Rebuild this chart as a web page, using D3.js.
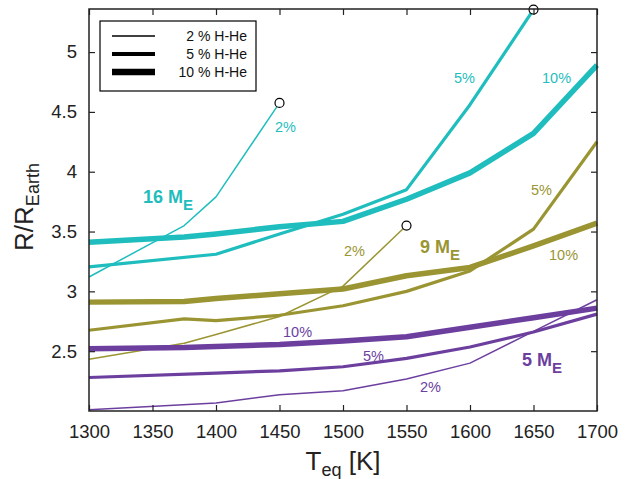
<!DOCTYPE html>
<html><head><meta charset="utf-8">
<script src="https://cdn.jsdelivr.net/npm/d3@7"></script>
<style>body{margin:0;background:#fff}svg{display:block;font-family:"Liberation Sans",Arial,Helvetica,sans-serif}</style>
</head><body><svg id="c" width="631" height="479"></svg>
<script>
// ---- data ----
const xTicks = [1300,1350,1400,1450,1500,1550,1600,1650,1700];
const yTicks = [2.5,3,3.5,4,4.5,5];

const t16_2 = [1300,1375,1400,1450];
const r16_2 = [3.12,3.55,3.79,4.575];
const t16_5 = [1300,1400,1450,1500,1550,1600,1650];
const r16_5 = [3.205,3.31,3.48,3.645,3.85,4.56,5.355];
const t16_10 = [1300,1375,1400,1450,1500,1550,1600,1650,1700];
const r16_10 = [3.41,3.455,3.48,3.54,3.585,3.77,3.99,4.32,4.89];

const t9_2 = [1300,1375,1400,1450,1500,1550];
const r9_2 = [2.433,2.567,2.64,2.79,3.044,3.55];
const t9_5 = [1300,1375,1400,1450,1500,1550,1600,1650,1700];
const r9_5 = [2.675,2.77,2.755,2.80,2.88,3.0,3.17,3.52,4.25];
const t9_10 = [1300,1375,1400,1450,1500,1550,1600,1650,1700];
const r9_10 = [2.91,2.915,2.94,2.98,3.02,3.13,3.20,3.38,3.57];

const t5_2 = [1300,1400,1450,1500,1550,1600,1650,1700];
const r5_2 = [2.01,2.067,2.136,2.17,2.267,2.40,2.665,2.93];
const t5_5 = [1300,1400,1450,1500,1550,1600,1650,1700];
const r5_5 = [2.28,2.317,2.336,2.37,2.44,2.535,2.66,2.81];
const t5_10 = [1300,1375,1400,1450,1500,1550,1600,1650,1700];
const r5_10 = [2.52,2.53,2.54,2.555,2.586,2.62,2.70,2.78,2.86];

const legendLabels = ["2 % H-He","5 % H-He","10 % H-He"];
const widths = {2:1.5, 5:3.2, 10:5.5};
const colors = {16:"#1fbdbd", 9:"#9a9532", 5:"#6c3f9f"};

const series = [
  {m:16,p:2,t:t16_2,r:r16_2,end:true},
  {m:16,p:5,t:t16_5,r:r16_5,end:true},
  {m:16,p:10,t:t16_10,r:r16_10},
  {m:9,p:2,t:t9_2,r:r9_2,end:true},
  {m:9,p:5,t:t9_5,r:r9_5},
  {m:9,p:10,t:t9_10,r:r9_10},
  {m:5,p:2,t:t5_2,r:r5_2},
  {m:5,p:5,t:t5_5,r:r5_5},
  {m:5,p:10,t:t5_10,r:r5_10}
];

// ---- layout ----
const svg = d3.select("#c");
const L=89, R=597, T=9, B=411;
const x = d3.scaleLinear().domain([1300,1700]).range([L,R]);
const y = d3.scaleLinear().domain([2,5.36]).range([B,T]);

const line = d3.line().x(d=>x(d[0])).y(d=>y(d[1]));
series.forEach(s=>{
  const pts = s.t.map((t,i)=>[t,s.r[i]]);
  svg.append("path").attr("d",line(pts)).attr("fill","none")
    .attr("stroke",colors[s.m]).attr("stroke-width",widths[s.p])
    .attr("stroke-linejoin","round");
});
series.filter(s=>s.end).forEach(s=>{
  const n=s.t.length-1;
  svg.append("circle").attr("cx",x(s.t[n])).attr("cy",y(s.r[n])).attr("r",4.5)
    .attr("fill","#fff").attr("stroke","#000").attr("stroke-width",1.2);
});

// axes with inward ticks
const fs = 18.5;
const gB = svg.append("g").attr("transform",`translate(0,${B})`)
  .call(d3.axisBottom(x).tickValues(xTicks).tickSizeInner(-6).tickSizeOuter(0).tickPadding(14).tickFormat(d3.format("d")));
const gT = svg.append("g").attr("transform",`translate(0,${T})`)
  .call(d3.axisTop(x).tickValues(xTicks).tickSizeInner(-6).tickSizeOuter(0).tickFormat(""));
const gL = svg.append("g").attr("transform",`translate(${L},0)`)
  .call(d3.axisLeft(y).tickValues(yTicks).tickSizeInner(-6).tickSizeOuter(0).tickPadding(12).tickFormat(d3.format("")));
const gR = svg.append("g").attr("transform",`translate(${R},0)`)
  .call(d3.axisRight(y).tickValues(yTicks).tickSizeInner(-6).tickSizeOuter(0).tickFormat(""));
[gB,gT,gL,gR].forEach(g=>{
  g.select(".domain").remove();
  g.selectAll("line").attr("stroke","#222").attr("stroke-width",1.2);
  g.selectAll("text").attr("font-size",fs).attr("fill","#222")
   .attr("font-family","Liberation Sans, Arial, sans-serif");
});
svg.append("rect").attr("x",L).attr("y",T).attr("width",R-L).attr("height",B-T)
  .attr("fill","none").attr("stroke","#222").attr("stroke-width",1.5);

// axis titles
const xt = svg.append("text").attr("x",343).attr("y",470).attr("text-anchor","middle")
  .attr("font-size",26).attr("fill","#222");
xt.append("tspan").text("T");
xt.append("tspan").attr("font-size",18).attr("dy",6).text("eq");
xt.append("tspan").attr("dy",-6).text(" [K]");

const yt = svg.append("text").attr("transform","translate(33,207) rotate(-90)")
  .attr("text-anchor","middle").attr("font-size",26).attr("fill","#222");
yt.append("tspan").text("R/R");
yt.append("tspan").attr("font-size",18).attr("dy",6).text("Earth");

// legend
const lg = svg.append("g");
lg.append("rect").attr("x",100).attr("y",21).attr("width",156).attr("height",70)
  .attr("fill","#fff").attr("stroke","#000").attr("stroke-width",1.2);
const lw=[1.5,4,6.5], ly=[36,54,72];
legendLabels.forEach((lab,i)=>{
  lg.append("line").attr("x1",112).attr("x2",155).attr("y1",ly[i]).attr("y2",ly[i])
    .attr("stroke","#000").attr("stroke-width",lw[i]);
  lg.append("text").attr("x",247).attr("y",ly[i]+5).attr("text-anchor","end")
    .attr("font-size",14).attr("fill","#111").text(lab);
});

// annotations
const ann = [
  {t:"2%",x:275,y:132,m:16},{t:"5%",x:454,y:83,m:16},{t:"10%",x:542,y:83,m:16},
  {t:"2%",x:344,y:256,m:9},{t:"5%",x:531,y:195,m:9},{t:"10%",x:549,y:260,m:9},
  {t:"10%",x:283,y:337,m:5},{t:"5%",x:363,y:361,m:5},{t:"2%",x:420,y:392,m:5}
];
ann.forEach(a=>svg.append("text").attr("x",a.x).attr("y",a.y).attr("font-size",14.5)
  .attr("fill",colors[a.m]).text(a.t));

const big = [{n:"16 M",x:143,y:203,m:16},{n:"9 M",x:420,y:253,m:9},{n:"5 M",x:522,y:366,m:5}];
big.forEach(b=>{
  const t = svg.append("text").attr("x",b.x).attr("y",b.y).attr("font-size",18)
    .attr("font-weight","bold").attr("fill",colors[b.m]);
  t.append("tspan").text(b.n);
  t.append("tspan").attr("dy",7).attr("font-size",15).text("E");
});
</script></body></html>
